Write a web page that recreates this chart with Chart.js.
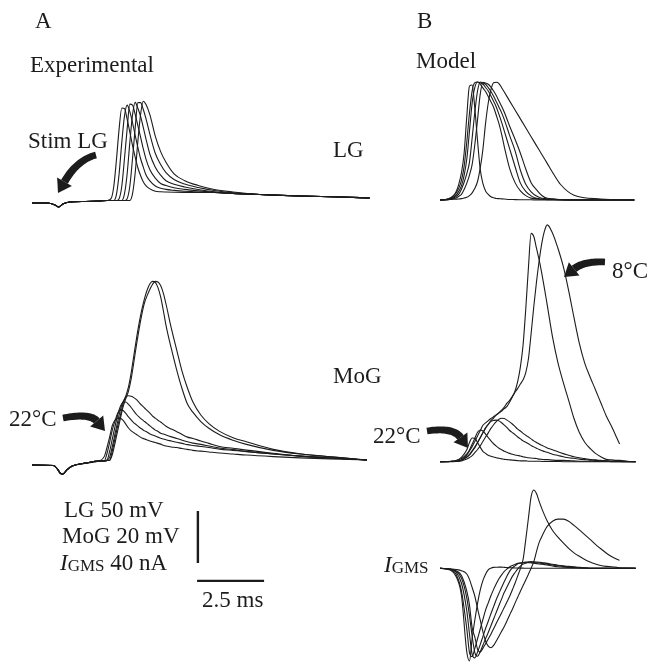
<!DOCTYPE html>
<html>
<head>
<meta charset="utf-8">
<script src="https://cdn.jsdelivr.net/npm/chart.js@4.4.1/dist/chart.umd.min.js"></script>
<style>
  body { margin: 0; background: #fff; }
  #wrap { position: relative; width: 648px; height: 665px; font-family: "Liberation Serif", "Times New Roman", serif; color: #1c1c1c; }
  #fig { position: absolute; left: 0; top: 0; }
  .lbl { position: absolute; font-size: 23px; line-height: 1; white-space: nowrap; }
  .sub { font-size: 17px; position: relative; top: 1px; }
</style>
</head>
<body>
<div id="wrap">
  <canvas id="fig" width="648" height="665"></canvas>
  <div class="lbl" style="left:35px;top:9px">A</div>
  <div class="lbl" style="left:417px;top:9px">B</div>
  <div class="lbl" style="left:30px;top:53px">Experimental</div>
  <div class="lbl" style="left:416px;top:49px">Model</div>
  <div class="lbl" style="left:28px;top:129px">Stim LG</div>
  <div class="lbl" style="left:333px;top:138px">LG</div>
  <div class="lbl" style="left:333px;top:364px">MoG</div>
  <div class="lbl" style="left:9px;top:407px">22°C</div>
  <div class="lbl" style="left:373px;top:424px">22°C</div>
  <div class="lbl" style="left:612px;top:259px">8°C</div>
  <div class="lbl" style="left:384px;top:553px"><i>I</i><span class="sub">GMS</span></div>
  <div class="lbl" style="left:64px;top:498px">LG 50 mV</div>
  <div class="lbl" style="left:62px;top:524px">MoG 20 mV</div>
  <div class="lbl" style="left:60px;top:551px"><i>I</i><span class="sub">GMS</span> 40 nA</div>
  <div class="lbl" style="left:202px;top:588px">2.5 ms</div>
</div>
<script>
// ---- A: experimental, LG (ms, mV relative to rest) ----
const timesALG = [0, 0.6, 0.85, 1.0, 1.15, 1.4, 2.0, 2.5, 2.8, 2.95, 3.05, 3.15, 3.25, 3.35, 3.45, 3.55, 3.65, 3.75, 3.85, 3.95,
  4.05, 4.15, 4.25, 4.4, 4.6, 4.8, 5.0, 5.3, 5.7, 6.2, 6.8, 7.5, 8.5, 10, 11.5, 12.6];
const expLG1 = [-2.9, -2.9, -4.8, -6.7, -3.8, -1.9, -1.4, -1.0, -0.5, 1.3, 12.7, 38.4, 68.2, 88.5, 88.0, 77.7, 65.3, 52.6, 41.2, 31.0,
  23.5, 17.6, 13.9, 10.7, 8.4, 7.9, 7.7, 7.5, 7.3, 7.2, 7.2, 6.2, 5.3, 3.8, 2.9, 1.9];
const expLG2 = [-2.9, -2.9, -4.8, -6.7, -3.8, -1.9, -1.4, -1.0, -0.5, -0.5, -0.5, 5.2, 25, 55.2, 80.6, 91.2, 84.9, 74.5, 62.2, 50.7,
  39.9, 31.8, 24.3, 18.4, 13.4, 11.3, 10.2, 9.3, 8.4, 7.7, 7.2, 6.2, 5.3, 3.8, 2.9, 1.9];
const expLG3 = [-2.9, -2.9, -4.8, -6.7, -3.8, -1.9, -1.4, -1.0, -0.5, -0.5, -0.5, -0.5, 1.3, 13.2, 39.6, 68.2, 92.2, 91.2, 82.3, 71.6,
  60.7, 49.5, 39.6, 29.1, 21, 15.9, 13.9, 11.8, 10.2, 8.8, 7.5, 6.2, 5.3, 3.8, 2.9, 1.9];
const expLG4 = [-2.9, -2.9, -4.8, -6.7, -3.8, -1.9, -1.4, -1.0, -0.5, -0.5, -0.5, -0.5, -0.5, -0.5, 5.8, 25, 55.2, 81.6, 93.9, 88.2,
  80.6, 70, 59, 44, 31.6, 23.9, 18.5, 15.1, 12.5, 10.1, 8, 6.4, 5.3, 3.8, 2.9, 1.9];
const expLG5 = [-2.9, -2.9, -4.8, -6.7, -3.8, -1.9, -1.4, -1.0, -0.5, -0.5, -0.5, -0.5, -0.5, -0.5, -0.5, 1.3, 13.2, 39.6, 69.1, 93.6,
  93.6, 87.3, 78.5, 63.1, 44.9, 34.1, 26.3, 19.7, 15.3, 12, 9.1, 6.9, 5.3, 3.8, 2.9, 1.9];
const expLG6 = [-2.9, -2.9, -4.8, -6.7, -3.8, -1.9, -1.4, -1.0, -0.5, -0.5, -0.5, -0.5, -0.5, -0.5, -0.5, -0.5, -0.5, 5.8, 25.9, 56.4,
  81.9, 95, 92, 81.9, 61.5, 46.5, 36.3, 25.2, 18.6, 14, 10.1, 7.7, 5.3, 3.8, 2.9, 1.9];

// ---- A: experimental, MoG ----
const timesAMoG = [0, 0.8, 0.95, 1.05, 1.15, 1.3, 1.5, 2.0, 2.5, 2.7, 2.8, 2.9, 3.0, 3.1, 3.2, 3.3, 3.4, 3.5, 3.6, 3.7,
  3.8, 3.9, 4.0, 4.1, 4.2, 4.3, 4.4, 4.5, 4.6, 4.7, 4.8, 4.9, 5.0, 5.2, 5.4, 5.6, 5.8, 6.0, 6.3, 6.6,
  7.0, 7.5, 8.0, 9.0, 10.0, 11.5, 12.5];
const expMoG1 = [-1.9, -2.1, -3.5, -5.0, -5.4, -3.8, -2.3, -1.2, -0.4, 1.4, 4.9, 9, 13.4, 15.4, 16.1, 16, 15.2, 13.8, 12.3, 11.2,
  10.5, 9.8, 9.1, 8.5, 8.1, 7.7, 7.3, 7, 6.7, 6.4, 6.1, 5.7, 5.4, 5, 4.8, 4.4, 4.1, 3.7, 3.4, 3.1,
  2.7, 2.3, 1.9, 1.3, 0.8, 0.3, 0];
const expMoG2 = [-1.9, -2.1, -3.5, -5.0, -5.4, -3.8, -2.3, -1.2, -0.4, -0.3, 2.6, 6.9, 11.7, 15.1, 18.1, 19.2, 19, 17.9, 16.6, 15.4,
  14.3, 13.5, 12.6, 11.9, 11.2, 10.7, 10, 9.6, 9.2, 8.8, 8.4, 8.1, 7.8, 7.3, 6.8, 6.4, 5.9, 5.6, 5.2, 4.8,
  4.2, 3.7, 3.2, 2.3, 1.5, 0.6, 0];
const expMoG3 = [-1.9, -2.1, -3.5, -5.0, -5.4, -3.8, -2.3, -1.2, -0.4, -0.3, 0, 3.5, 8.2, 13, 17.4, 20.7, 22.2, 22.3, 21.4, 20.2,
  18.8, 17.5, 16.5, 15.6, 14.8, 14, 13.1, 12.3, 11.5, 11, 10.3, 10, 9.6, 8.9, 8.3, 7.6, 7, 6.5, 6, 5.4,
  4.6, 4, 3.3, 2.3, 1.5, 0.6, 0];
const expMoG4 = [-1.9, -2.1, -3.5, -5.0, -5.4, -3.8, -2.3, -1.2, -0.4, -0.4, -0.2, 1.1, 5.3, 10.2, 15, 19.4, 22.5, 24.2, 24.7, 24.5,
  24, 23.2, 22.1, 21, 20, 19, 18, 16.9, 16.1, 15.3, 14.6, 13.8, 13, 11.9, 10.9, 9.8, 8.8, 8.3, 7.3, 6.4,
  5.2, 4.5, 3.8, 2.6, 1.5, 0.6, 0];
const expMoG5 = [-1.9, -2.1, -3.5, -5.0, -5.4, -3.8, -2.3, -1.2, -0.4, -0.4, -0.2, -0.1, 3.7, 8.4, 13.2, 17.3, 21.7, 24.6, 28.1, 33.5,
  40.2, 46.8, 52.8, 57.9, 62.2, 65.5, 67.8, 68.7, 68.3, 66.3, 62.7, 57.5, 51.8, 42.8, 34.6, 27.4, 21.5, 18.4, 14.8, 12.2,
  9.7, 7.6, 6, 3.7, 2.3, 0.9, 0];
const expMoG6 = [-1.9, -2.1, -3.5, -5.0, -5.4, -3.8, -2.3, -1.2, -0.4, -0.4, -0.2, -0.1, 2.2, 6.6, 11.4, 16, 20.5, 23.6, 26.5, 31.2,
  37.6, 44.4, 50.6, 56.1, 60.5, 63.3, 65.7, 67.6, 68.7, 68.5, 67.1, 64.2, 60, 50.6, 42.3, 34.1, 27.7, 22.4, 17.3, 14,
  11, 8.6, 7, 4.1, 2.4, 0.9, 0];

// ---- B: model, LG ----
const timesBLG = [0, 0.3, 0.5, 0.6, 0.7, 0.8, 0.9, 1.0, 1.1, 1.2, 1.3, 1.4, 1.5, 1.6, 1.7, 1.8, 1.9, 2.0, 2.1, 2.2,
  2.3, 2.4, 2.6, 2.8, 3.0, 3.2, 3.4, 3.6, 3.8, 4.0, 4.25, 4.5, 5.0, 6.0, 7.25];
const modLG1 = [0, 1, 4.3, 8, 15.1, 26, 45, 80.5, 109.6, 110.6, 88, 57.2, 29.7, 15.9, 8.7, 5.3, 3.1, 2.2, 1.4, 1.3,
  1.1, 0.9, 0.5, 0.4, 0.3, 0.2, 0.2, 0.1, 0.1, 0, 0, 0, 0, 0, 0];
const modLG2 = [0, 1, 3.8, 6.7, 11.2, 18.8, 32.4, 55.8, 83.7, 105, 112.8, 113.5, 111.3, 107.8, 104.3, 99.6, 94.4, 89.2, 81.5, 73.4,
  63.2, 51.1, 30.2, 16.7, 8.7, 4.2, 1.8, 1.3, 0.7, 0.4, 0.3, 0.2, 0.1, 0, 0];
const modLG3 = [0, 0.7, 2.7, 4.7, 8.3, 13.6, 23.7, 39.4, 66.3, 93.3, 108.2, 113.4, 112.6, 111.5, 108.2, 104.8, 100.1, 95, 89.5, 82.3,
  74.7, 66.2, 49.2, 32.2, 16.2, 8.3, 4, 1.6, 0.9, 0.6, 0.5, 0.2, 0.1, 0, 0];
const modLG4 = [0, 0.6, 1.8, 3.4, 5.6, 10.4, 17.1, 25.4, 36.4, 59.6, 84.6, 104.8, 113.5, 112.5, 111.3, 108.1, 104.4, 99.8, 94.6, 89.2,
  83.8, 77.3, 61.9, 47.4, 28.6, 15.2, 7.9, 3.8, 1.7, 1.2, 0.5, 0.3, 0.1, 0, 0];
const modLG5 = [0, 0.4, 1.3, 2, 3.6, 5.4, 10, 16.2, 24, 34.3, 53.4, 76.9, 101.5, 113.2, 112.4, 111.3, 108.5, 104.8, 100.4, 95.2,
  90.1, 84.3, 70.9, 58.4, 45, 29.8, 16.7, 9.9, 4.3, 1.6, 1.1, 0.4, 0.1, 0, 0];
const modLG6 = [0, 0.4, 0.7, 0.8, 0.9, 1.3, 1.9, 2.6, 4.2, 6.9, 11.2, 17.8, 30.7, 48.5, 73.7, 93.3, 106.1, 112.8, 113.2, 112.0,
  108, 103.8, 95.1, 86.6, 78, 69.4, 60.9, 52.3, 43.8, 35.2, 24.5, 14.9, 4.6, 1, 0];

// ---- B: model, MoG and I_GMS (same time base) ----
const timesB = [0, 0.4, 0.6, 0.8, 1.0, 1.1, 1.2, 1.3, 1.4, 1.5, 1.6, 1.7, 1.8, 1.9, 2.0, 2.1, 2.2, 2.3, 2.4, 2.5,
  2.6, 2.7, 2.8, 2.9, 3.0, 3.1, 3.2, 3.3, 3.4, 3.5, 3.6, 3.7, 3.8, 3.9, 4.0, 4.2, 4.4, 4.6, 4.8, 5.0,
  5.2, 5.4, 5.6, 5.8, 6.0, 6.2, 6.4, 6.6, 6.7, 7.0, 7.3];
const modMoG1 = [0, 0.2, 0.5, 1.7, 4.6, 7.4, 9.1, 9.0, 7.4, 5.6, 4, 3.2, 2.5, 2.1, 1.8, 1.5, 1.3, 1.1, 0.9, 0.8,
  0.7, 0.6, 0.5, 0.4, 0.3, 0.3, 0.3, 0.2, 0.2, 0.2, 0.2, 0.2, 0.1, 0.1, 0.1, 0.1, 0.1, 0, 0, 0,
  0, 0, 0, 0, 0, 0, 0, 0, 0, 0, 0];
const modMoG2 = [0, 0.1, 0.4, 1.2, 3.0, 4.5, 6.8, 9, 11.3, 12.2, 11.8, 10.6, 9.3, 8, 6.9, 6, 5.2, 4.6, 4, 3.6,
  3.2, 2.9, 2.6, 2.4, 2.2, 1.9, 1.7, 1.5, 1.4, 1.3, 1.2, 1, 0.9, 0.8, 0.8, 0.6, 0.5, 0.5, 0.4, 0.3,
  0.2, 0.2, 0.2, 0.1, 0.1, 0.1, 0, 0, 0, 0, 0];
const modMoG3 = [0, 0.1, 0.2, 0.6, 1.8, 2.8, 4.2, 5.7, 7.4, 9.2, 11.1, 12.9, 14.3, 15.5, 15.9, 16, 15.7, 15, 14.1, 13.1,
  12, 11.2, 10.4, 9.5, 8.8, 8.0, 7.5, 6.9, 6.2, 5.7, 5.2, 4.7, 4.3, 3.9, 3.6, 2.9, 2.4, 1.9, 1.5, 1.3,
  1, 0.8, 0.6, 0.5, 0.3, 0.3, 0.2, 0.2, 0.1, 0.1, 0];
const modMoG4 = [0, 0, 0.1, 0.3, 1, 1.6, 2.3, 3.5, 4.7, 6.1, 7.8, 9.5, 11.1, 12.8, 14.2, 15.4, 16.3, 16.7, 16.6, 16,
  15.3, 14.5, 13.5, 12.5, 11.8, 10.9, 10.2, 9.5, 8.8, 8, 7.4, 6.8, 6.3, 5.8, 5.3, 4.6, 3.8, 3.1, 2.5, 1.9,
  1.5, 1.2, 0.8, 0.7, 0.5, 0.3, 0.2, 0.2, 0.1, 0, 0];
const modMoG5 = [0, 0.1, 0.2, 0.8, 2.5, 4.1, 5.8, 7.8, 9.9, 11.9, 14, 14.9, 15.8, 16.6, 17.3, 18.1, 18.8, 19.5, 20.4, 21.3,
  23, 24.9, 27.2, 30.9, 36.5, 44.9, 58.7, 74.7, 87.8, 86.6, 82.1, 77.6, 72.3, 66.5, 60.3, 47.9, 38.1, 30.5, 23.6, 16.6,
  11.2, 7.5, 5.1, 3.2, 1.9, 0.9, 0.7, 0.5, 0.5, 0.2, 0];
const modMoG6 = [0, 0.1, 0.1, 0.6, 1.8, 2.6, 4, 5.4, 7.3, 9.2, 11.1, 13, 14.4, 15.8, 16.8, 17.9, 18.8, 19.8, 21, 22.5,
  23.6, 25.2, 26.7, 28.2, 29.9, 31.5, 34.3, 39.6, 49.3, 59.7, 69.1, 77.3, 84.1, 88.8, 91.1, 87.9, 82.1, 75.1, 65.8, 55.4,
  45.5, 37.9, 32.6, 27.7, 22.7, 17.7, 13.6, 9.1, 6.8, null, null];

const modI1 = [0, -1.5, -6.3, -20.7, -64.4, -71.3, -53.6, -39.8, -27.1, -16.8, -9.5, -4.5, -1.2, 0.1, 0.7, 0.8, 0.9, 0.9, 0.7, 0.6,
  0.5, 0.4, 0.2, 0.2, 0.1, 0.1, 0, 0, 0, 0, 0, 0, 0, 0, 0, 0, 0, 0, 0, 0,
  0, 0, 0, 0, 0, 0, 0, 0, 0, 0, 0];
const modI2 = [0, -1.1, -4.5, -17.3, -46.6, -64.8, -67.9, -61.6, -54.2, -46.9, -39.4, -32.2, -26.6, -21.1, -16.2, -11.8, -8.0, -5.0, -2.4, -0.5,
  1.2, 2.2, 3.0, 3.8, 4.0, 4.2, 4.4, 4.4, 4.2, 3.9, 3.6, 3.3, 3.1, 2.8, 2.5, 1.8, 1.2, 0.9, 0.6, 0.5,
  0.3, 0.2, 0, 0, 0, 0, 0, 0, 0, 0, 0];
const modI3 = [0, -0.8, -3.0, -11.3, -32.7, -50.5, -66.2, -68.9, -64.5, -58.7, -52.5, -46.3, -40.7, -35.0, -29.5, -24.0, -19.2, -14.5, -10.2, -5.9,
  -2.2, 0.4, 1.9, 3.5, 4.0, 4.5, 4.8, 4.9, 4.7, 4.5, 4.2, 4.1, 3.8, 3.5, 3.2, 2.5, 2.0, 1.5, 1.1, 0.7,
  0.4, 0.2, 0, 0, 0, 0, 0, 0, 0, 0, 0];
const modI4 = [0, -0.7, -2.5, -7.5, -22.9, -36.5, -52.3, -64.8, -67.7, -64.2, -59.2, -54.2, -49.4, -44.2, -39, -33.8, -28.6, -23.5, -18.5, -14.4,
  -10.2, -6.2, -3.2, -0.4, 1.7, 3.2, 4, 4.8, 5.2, 5, 4.8, 4.6, 4.5, 4.2, 3.8, 3.1, 2.4, 1.9, 1.5, 1.1,
  0.7, 0.4, 0, 0, 0, 0, 0, 0, 0, 0, 0];
const modI5 = [0, -0.7, -1.9, -5.5, -17.6, -28.2, -45.8, -52.9, -62.1, -64.5, -61.6, -58, -54.4, -50.7, -46.5, -42.3, -38.2, -34.2, -30, -25.8,
  -21.5, -16.5, -11.5, -5.8, -0.2, 6.8, 22.1, 38.7, 55.2, 60.2, 57.5, 51.5, 45.9, 40.9, 36.4, 29.1, 24, 19.5, 15.3, 11.9,
  9.2, 6.8, 4.8, 3.3, 2.1, 1.5, 1.2, 0.7, 0.4, 0.2, 0];
const modI6 = [0, -0.5, -0.9, -1.8, -4.4, -8.5, -14.8, -21.5, -30.8, -39.7, -48.7, -55.9, -59.9, -61.1, -59.3, -55.9, -52.2, -48.5, -44.7, -40.4,
  -35.9, -31.5, -26.8, -22.2, -17.6, -13.3, -9, -4.5, 0.1, 5.1, 12.9, 19.9, 24.5, 28.7, 32.2, 36.2, 37.8, 37.8, 36.2, 33,
  29.5, 25.9, 22.2, 18.4, 15, 11.8, 9, 7, 6.2, null, null];

// scale bar: one vertical bar = LG 50 mV / MoG 20 mV / I 40 nA, horizontal = 2.5 ms
const scaleBarMs = 2.5;
const scaleBarMoG = 20;

// ---- layout (pixels) ----
const W = 648, H = 665;
const INK = '#1c1c1c';
function xRange(zeroPx, pxPerUnit) {
  return { min: -zeroPx / pxPerUnit, max: (W - zeroPx) / pxPerUnit };
}
function yRange(zeroPx, pxPerUnit) {
  return { min: -(H - zeroPx) / pxPerUnit, max: zeroPx / pxPerUnit };
}
function axis(dir, range) {
  return Object.assign({ type: 'linear', axis: dir, display: false, bounds: 'data' }, range);
}

function trace(times, vals, xAxisID, yAxisID) {
  return {
    data: times.map((t, i) => ({ x: t, y: vals[i] })),
    xAxisID, yAxisID,
    borderColor: INK, borderWidth: 1.1,
    pointRadius: 0, cubicInterpolationMode: 'monotone', clip: false
  };
}

const datasets = [];
[expLG1, expLG2, expLG3, expLG4, expLG5, expLG6].forEach(v => datasets.push(trace(timesALG, v, 'xA', 'yLG')));
[expMoG1, expMoG2, expMoG3, expMoG4, expMoG5, expMoG6].forEach(v => datasets.push(trace(timesAMoG, v, 'xA', 'yMoGA')));
[modLG1, modLG2, modLG3, modLG4, modLG5, modLG6].forEach(v => datasets.push(trace(timesBLG, v, 'xB', 'yLG')));
[modMoG1, modMoG2, modMoG3, modMoG4, modMoG5, modMoG6].forEach(v => datasets.push(trace(timesB, v, 'xB', 'yMoGB')));
[modI1, modI2, modI3, modI4, modI5, modI6].forEach(v => datasets.push(trace(timesB, v, 'xB', 'yI')));

// scale bars (in panel A MoG units)
const barX = 6.19, barTop = -19.6, hBarY = -46.5, hBarX = 6.16;
datasets.push({
  data: [{ x: barX, y: barTop }, { x: barX, y: barTop - scaleBarMoG }],
  xAxisID: 'xA', yAxisID: 'yMoGA', borderColor: INK, borderWidth: 2.4, pointRadius: 0, tension: 0
});
datasets.push({
  data: [{ x: hBarX, y: hBarY }, { x: hBarX + scaleBarMs, y: hBarY }],
  xAxisID: 'xA', yAxisID: 'yMoGA', borderColor: INK, borderWidth: 2.4, pointRadius: 0, tension: 0
});

// curved annotation arrows (pixel positions)
const arrows = [
  { tail: [96, 155], ctrl: [77, 160], tip: [58, 193] },
  { tail: [63, 418], ctrl: [90, 413], tip: [105, 431] },
  { tail: [427, 431], ctrl: [453, 427], tip: [468, 448] },
  { tail: [605, 262], ctrl: [584, 261], tip: [564, 277] }
];

function drawArrow(ctx, a) {
  const head = 13, half = 8.5;
  let dx = a.tip[0] - a.ctrl[0], dy = a.tip[1] - a.ctrl[1];
  const len = Math.hypot(dx, dy);
  dx /= len; dy /= len;
  const base = [a.tip[0] - dx * head, a.tip[1] - dy * head];
  const n = 24, left = [], right = [];
  for (let i = 0; i <= n; i++) {
    const t = i / n, u = 1 - t;
    const px = u * u * a.tail[0] + 2 * u * t * a.ctrl[0] + t * t * base[0];
    const py = u * u * a.tail[1] + 2 * u * t * a.ctrl[1] + t * t * base[1];
    const tx = 2 * u * (a.ctrl[0] - a.tail[0]) + 2 * t * (base[0] - a.ctrl[0]);
    const ty = 2 * u * (a.ctrl[1] - a.tail[1]) + 2 * t * (base[1] - a.ctrl[1]);
    const tl = Math.hypot(tx, ty) || 1;
    const w = 3.3 + 0.6 * t;
    left.push([px - ty / tl * w, py + tx / tl * w]);
    right.push([px + ty / tl * w, py - tx / tl * w]);
  }
  ctx.save();
  ctx.fillStyle = INK;
  ctx.beginPath();
  left.forEach((p, i) => i ? ctx.lineTo(p[0], p[1]) : ctx.moveTo(p[0], p[1]));
  right.reverse().forEach(p => ctx.lineTo(p[0], p[1]));
  ctx.closePath();
  ctx.fill();
  ctx.beginPath();
  ctx.moveTo(a.tip[0], a.tip[1]);
  ctx.lineTo(base[0] - dy * half, base[1] + dx * half);
  ctx.lineTo(base[0] + dy * half, base[1] - dx * half);
  ctx.closePath();
  ctx.fill();
  ctx.restore();
}

const arrowPlugin = {
  id: 'arrows',
  afterDatasetsDraw(chart) {
    arrows.forEach(a => drawArrow(chart.ctx, a));
  }
};

new Chart(document.getElementById('fig'), {
  type: 'line',
  data: { datasets },
  plugins: [arrowPlugin],
  options: {
    responsive: false,
    animation: false,
    devicePixelRatio: 1,
    layout: { padding: 0 },
    plugins: { legend: { display: false }, tooltip: { enabled: false } },
    scales: {
      xA: axis('x', xRange(32, 26.8)),
      xB: axis('x', xRange(440, 26.8)),
      yLG: axis('y', yRange(200, 1.04)),
      yMoGA: axis('y', yRange(460, 2.6)),
      yMoGB: axis('y', yRange(461.7, 2.6)),
      yI: axis('y', yRange(568.3, 1.3))
    }
  }
});
</script>
</body>
</html>
